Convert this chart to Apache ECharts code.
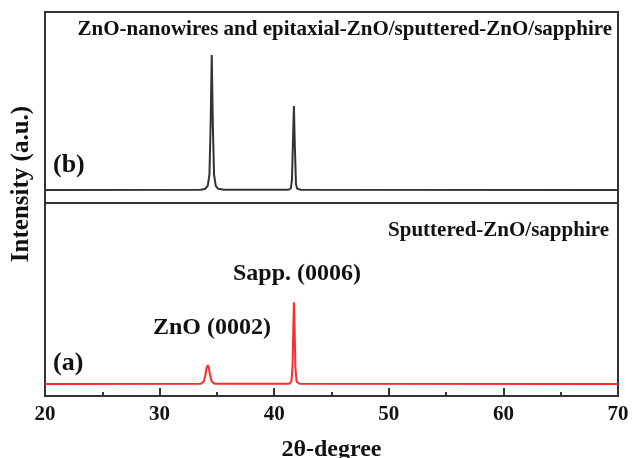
<!DOCTYPE html>
<html>
<head>
<meta charset="utf-8">
<script src="https://cdn.jsdelivr.net/npm/echarts@6/dist/echarts.min.js"></script>
<style>
  html, body { margin: 0; padding: 0; background: #fff; }
  #main { width: 633px; height: 458px; }
</style>
</head>
<body>
<div id="main"></div>
<script>
// 2-theta range and ticks
const xMin = 20;
const xMax = 70;
const xTicks = [20, 30, 40, 50, 60, 70];

// (b) ZnO-nanowires and epitaxial-ZnO/sputtered-ZnO/sapphire
const angleB = [20, 33.6, 34.0, 34.2, 34.35, 34.45, 34.55, 34.65, 34.75, 34.9, 35.1, 35.6,
                41.2, 41.45, 41.55, 41.65, 41.72, 41.8, 41.9, 42.0, 42.3, 70];
const intB   = [6.8, 6.9, 7.5, 9, 15, 40, 77.5, 40, 15, 9, 7.5, 6.9,
                6.9, 7.5, 12, 35, 50.8, 30, 10, 7.5, 6.9, 6.8];

// (a) Sputtered-ZnO/sapphire
const angleA = [20, 33.6, 33.85, 34.0, 34.1, 34.2, 34.3, 34.4, 34.55, 34.8,
                41.3, 41.5, 41.6, 41.67, 41.72, 41.78, 41.85, 41.95, 42.2, 70];
const intA   = [6.2, 6.3, 7.5, 11, 14.5, 16, 14.5, 11, 7.5, 6.3,
                6.3, 7.5, 15, 35, 48.5, 35, 15, 7.5, 6.3, 6.2];

const serif = '"Liberation Serif", "DejaVu Serif", serif';

function pairs(xs, ys) {
  return xs.map((x, i) => [x, ys[i]]);
}

function label(text, x, y, size, align) {
  return {
    type: 'text', x: x, y: y,
    style: { text: text, font: 'bold ' + size + 'px ' + serif, fill: '#111',
             align: align || 'left', verticalAlign: 'middle' }
  };
}

const chart = echarts.init(document.getElementById('main'));

const baseX = {
  type: 'value', min: xMin, max: xMax, interval: 10,
  axisLine: { show: false },
  splitLine: { show: false }
};
const baseY = {
  type: 'value', min: 0, max: 100,
  axisLine: { show: false }, axisTick: { show: false },
  axisLabel: { show: false }, splitLine: { show: false }
};

chart.setOption({
  animation: false,
  grid: [
    { left: 45, right: 15, top: 12, height: 191, show: true, outerBoundsMode: 'none',
      borderColor: '#333', borderWidth: 2 },
    { left: 45, right: 15, top: 203, height: 193, show: true, outerBoundsMode: 'none',
      borderColor: '#333', borderWidth: 2 }
  ],
  xAxis: [
    Object.assign({}, baseX, {
      gridIndex: 0,
      axisTick: { show: false }, axisLabel: { show: false }
    }),
    Object.assign({}, baseX, {
      gridIndex: 1,
      axisTick: { show: true, inside: true, length: 8, lineStyle: { color: '#333', width: 2 } },
      minorTick: { show: true, splitNumber: 2, length: 4, lineStyle: { color: '#333', width: 2 } },
      axisLabel: {
        color: '#111', fontFamily: serif, fontWeight: 'bold', fontSize: 21, margin: 8,
        formatter: v => xTicks.indexOf(v) >= 0 ? String(v) : ''
      },
      name: '2θ-degree', nameLocation: 'middle', nameGap: 42,
      nameTextStyle: { color: '#111', fontFamily: serif, fontWeight: 'bold', fontSize: 24 }
    })
  ],
  yAxis: [
    Object.assign({}, baseY, { gridIndex: 0 }),
    Object.assign({}, baseY, { gridIndex: 1 })
  ],
  series: [
    {
      type: 'line', xAxisIndex: 0, yAxisIndex: 0, showSymbol: false,
      lineStyle: { color: '#333', width: 2 },
      data: pairs(angleB, intB)
    },
    {
      type: 'line', xAxisIndex: 1, yAxisIndex: 1, showSymbol: false,
      lineStyle: { color: '#ff2a2a', width: 2 },
      data: pairs(angleA, intA)
    }
  ],
  graphic: [
    label('ZnO-nanowires and epitaxial-ZnO/sputtered-ZnO/sapphire', 612, 30, 21, 'right'),
    label('(b)', 53, 165, 26),
    label('Sputtered-ZnO/sapphire', 609, 231, 21, 'right'),
    label('Sapp. (0006)', 233, 274, 24),
    label('ZnO (0002)', 153, 328, 24),
    label('(a)', 53, 363, 26),
    {
      type: 'text', x: 22, y: 184, rotation: Math.PI / 2,
      style: { text: 'Intensity (a.u.)', font: 'bold 25px ' + serif, fill: '#111',
               align: 'center', verticalAlign: 'middle' }
    }
  ]
});
</script>
</body>
</html>
